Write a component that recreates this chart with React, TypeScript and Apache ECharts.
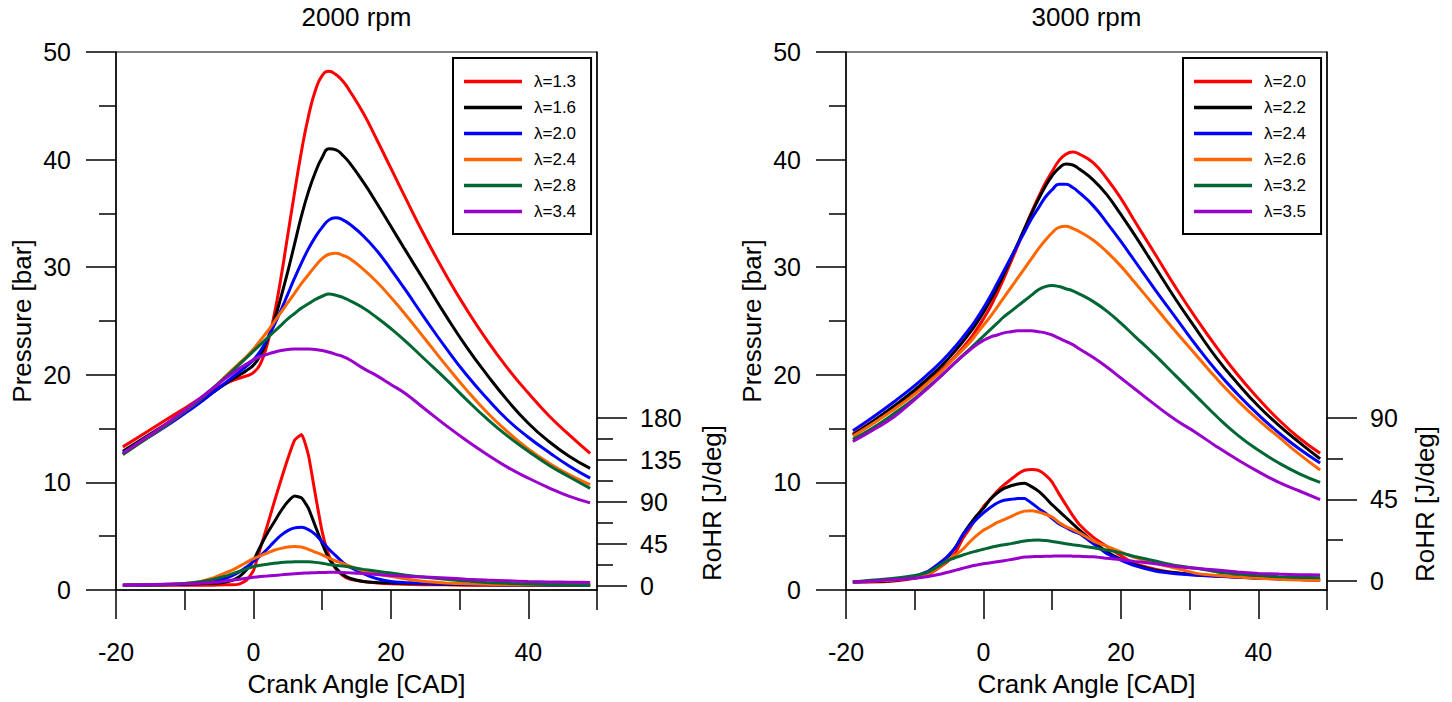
import React, { useEffect, useRef } from "react";
import * as echarts from "echarts";

const FONT = '"Liberation Sans", Arial, Helvetica, sans-serif';

// Crank angle sample positions [CAD]
const pressureAngles = [-19, -16, -13, -10, -8, -6, -4, -2, -1, 0, 1, 2, 3, 4, 5, 6, 7, 8, 9, 10, 11, 12, 13, 14, 16, 18, 20, 22, 25, 28, 31, 34, 37, 40, 43, 46, 49];
const rohrAngles = [-19, -16, -13, -10, -8, -6, -5, -4, -3, -2, -1, 0, 1, 2, 3, 4, 5, 6, 7, 8, 9, 10, 11, 12, 13, 14, 16, 18, 20, 22, 25, 28, 31, 34, 37, 40, 43, 46, 49];

// Legend labels
const lambdas2000 = ["λ=1.3", "λ=1.6", "λ=2.0", "λ=2.4", "λ=2.8", "λ=3.4"];
const lambdas3000 = ["λ=2.0", "λ=2.2", "λ=2.4", "λ=2.6", "λ=3.2", "λ=3.5"];
const lineColors = ["#ff0000", "#000000", "#0000ff", "#ff6600", "#006633", "#9900cc"];

// Tick values
const angleMajorTicks = [-20, 0, 20, 40];
const angleMinorTicks = [-10, 10, 30, 50];
const rohr2000MajorTicks = [0, 45, 90, 135, 180];
const rohr2000MinorTicks = [22.5, 67.5, 112.5, 157.5];
const rohr3000MajorTicks = [0, 45, 90];
const rohr3000MinorTicks = [22.5, 67.5];

// 2000 rpm – cylinder pressure [bar]
const p2000L13 = [13.3, 14.5, 15.7, 16.9, 17.7, 18.5, 19.2, 19.7, 19.9, 20.2, 21.0, 22.8, 25.5, 29.0, 33.0, 37.0, 40.8, 44.0, 46.4, 47.8, 48.2, 47.9, 47.3, 46.4, 44.3, 41.8, 39.2, 36.6, 32.8, 29.3, 26.1, 23.2, 20.6, 18.3, 16.2, 14.4, 12.7];
const p2000L16 = [12.9, 14.1, 15.3, 16.5, 17.4, 18.3, 19.2, 20.0, 20.4, 20.9, 21.8, 23.2, 25.0, 27.2, 29.6, 32.2, 34.8, 37.0, 38.8, 40.2, 41.0, 40.9, 40.4, 39.7, 37.9, 35.9, 33.8, 31.7, 28.6, 25.5, 22.6, 20.0, 17.6, 15.5, 13.8, 12.4, 11.3];
const p2000L20 = [12.7, 13.9, 15.1, 16.4, 17.3, 18.3, 19.3, 20.3, 20.8, 21.4, 22.2, 23.3, 24.6, 26.0, 27.5, 29.0, 30.4, 31.7, 32.8, 33.7, 34.4, 34.6, 34.4, 34.0, 32.9, 31.5, 29.8, 28.0, 25.2, 22.5, 20.0, 17.8, 15.8, 14.2, 12.8, 11.5, 10.4];
const p2000L24 = [12.6, 13.9, 15.2, 16.6, 17.6, 18.7, 19.9, 21.1, 21.7, 22.4, 23.2, 24.0, 24.9, 25.8, 26.7, 27.6, 28.5, 29.3, 30.1, 30.8, 31.2, 31.3, 31.1, 30.8, 29.8, 28.6, 27.2, 25.7, 23.3, 20.9, 18.6, 16.5, 14.7, 13.1, 11.8, 10.7, 9.8];
const p2000L28 = [12.6, 13.9, 15.2, 16.6, 17.6, 18.7, 19.8, 21.0, 21.6, 22.2, 22.8, 23.4, 24.0, 24.6, 25.2, 25.7, 26.2, 26.6, 27.0, 27.3, 27.5, 27.4, 27.2, 26.9, 26.2, 25.3, 24.3, 23.2, 21.4, 19.6, 17.7, 15.9, 14.3, 12.9, 11.6, 10.5, 9.45];
const p2000L34 = [12.7, 14.0, 15.3, 16.7, 17.7, 18.7, 19.7, 20.6, 21.0, 21.4, 21.7, 21.9, 22.1, 22.25, 22.35, 22.4, 22.4, 22.4, 22.35, 22.25, 22.1, 21.9, 21.7, 21.4, 20.6, 19.9, 19.1, 18.3, 16.8, 15.3, 13.9, 12.6, 11.4, 10.4, 9.5, 8.7, 8.1];

// 2000 rpm – rate of heat release [J/deg]
const r2000L13 = [0.5, 0.5, 0.5, 0.5, 0.5, 0.5, 0.8, 1, 1, 2, 6, 16, 40, 64, 89, 113, 136, 156, 162, 140, 98, 58, 32, 18, 11, 7, 4.5, 3, 2, 1.5, 1, 1, 0.5, 0.5, 0.5, 0.5, 0.5, 0.5, 0.5];
const r2000L16 = [0.5, 0.8, 1, 1.5, 2, 2.5, 3, 4, 6, 10, 17, 27, 42, 56, 68, 80, 90, 96, 94, 83, 64, 45, 29, 19, 12, 8, 4.5, 3.5, 3, 2.5, 2, 1.5, 1.2, 1, 1, 0.8, 0.8, 0.8, 0.8];
const r2000L20 = [0.5, 0.8, 1.2, 2, 3, 4.5, 6, 8, 11, 15, 20, 26, 32, 39, 47, 54, 59, 62, 62.5, 60, 55, 47, 39, 32, 25, 20, 13, 7.5, 4.5, 3.5, 2.5, 2, 1.5, 1.2, 1, 1, 0.8, 0.8, 0.8];
const r2000L24 = [0.5, 1, 1.5, 2.5, 4, 8, 11, 14, 17, 21, 25, 29, 32, 35, 38, 40, 41.5, 42, 41.5, 39, 36, 33, 29.5, 26.5, 24, 21, 16, 12.5, 10, 7.5, 4.5, 3, 2, 1.5, 1.2, 1, 1, 1, 1];
const r2000L28 = [0.5, 0.8, 1, 2.5, 4, 6.5, 8.5, 10.5, 13, 15.5, 18, 20.5, 22, 23, 24, 24.8, 25.3, 25.7, 25.8, 25.6, 25, 24, 22.8, 21.8, 21, 20, 17.5, 15.5, 13.5, 11.5, 9, 6.8, 5, 3.5, 2.5, 1.8, 1.2, 0.8, 0.5];
const r2000L34 = [0.5, 1, 1.5, 2, 2.5, 3.5, 4, 5, 6, 7, 8, 9, 9.8, 10.4, 11, 11.6, 12.2, 12.8, 13.3, 13.7, 14, 14.2, 14.3, 14.3, 14.2, 13.8, 13, 12, 11, 10.2, 9.2, 8.2, 7, 6, 5.3, 4.5, 4, 3.7, 3.5];

// 3000 rpm – cylinder pressure [bar]
const p3000L20 = [14.5, 15.7, 17.0, 18.4, 19.4, 20.5, 21.8, 23.3, 24.2, 25.2, 26.3, 27.6, 29.0, 30.5, 32.0, 33.6, 35.1, 36.5, 37.8, 38.9, 39.9, 40.5, 40.7, 40.5, 39.7, 38.2, 36.4, 34.3, 31.2, 28.1, 25.2, 22.5, 20.0, 17.8, 15.8, 14.1, 12.7];
const p3000L22 = [14.4, 15.7, 17.1, 18.6, 19.7, 20.9, 22.3, 23.9, 24.8, 25.8, 26.9, 28.1, 29.4, 30.8, 32.2, 33.6, 35.0, 36.3, 37.5, 38.5, 39.2, 39.6, 39.5, 39.1, 38.1, 36.7, 34.9, 33.0, 30.0, 27.0, 24.2, 21.5, 19.2, 17.1, 15.3, 13.7, 12.2];
const p3000L24 = [14.8, 16.1, 17.5, 19.0, 20.1, 21.3, 22.7, 24.3, 25.2, 26.2, 27.3, 28.5, 29.7, 30.9, 32.1, 33.3, 34.5, 35.5, 36.5, 37.2, 37.7, 37.7, 37.4, 36.9, 35.7, 34.1, 32.4, 30.6, 27.9, 25.3, 22.7, 20.3, 18.2, 16.3, 14.6, 13.1, 11.8];
const p3000L26 = [14.3, 15.5, 16.8, 18.2, 19.3, 20.4, 21.7, 23.0, 23.8, 24.6, 25.4, 26.3, 27.2, 28.1, 29.0, 29.9, 30.8, 31.7, 32.5, 33.2, 33.7, 33.8, 33.6, 33.3, 32.5, 31.4, 30.1, 28.6, 26.3, 24.0, 21.8, 19.6, 17.6, 15.8, 14.2, 12.6, 11.15];
const p3000L32 = [14.0, 15.1, 16.4, 17.8, 18.9, 20.0, 21.2, 22.4, 23.0, 23.6, 24.2, 24.8, 25.4, 25.9, 26.4, 26.9, 27.4, 27.9, 28.2, 28.3, 28.2, 28.0, 27.8, 27.5, 26.8, 25.9, 24.8, 23.6, 21.8, 19.9, 18.0, 16.1, 14.4, 13.0, 11.8, 10.8, 10.0];
const p3000L35 = [13.8, 14.9, 16.1, 17.7, 18.8, 20.0, 21.2, 22.3, 22.8, 23.2, 23.5, 23.7, 23.9, 24.0, 24.1, 24.1, 24.1, 24.0, 23.9, 23.7, 23.4, 23.1, 22.8, 22.4, 21.6, 20.7, 19.7, 18.7, 17.2, 15.8, 14.6, 13.3, 12.1, 11.0, 10.0, 9.2, 8.4];

// 3000 rpm – rate of heat release [J/deg]
const r3000L20 = [-0.5, -0.5, 0, 1.5, 3.5, 8.5, 11.5, 16, 23.5, 29, 35, 41, 45, 49.5, 53, 56, 59, 61, 61.5, 61, 58.5, 54.5, 48, 42, 36, 31, 24, 18.9, 14, 9.5, 6.5, 4.5, 3.3, 2.7, 2.2, 1.6, 1.2, 0.8, 0.5];
const r3000L22 = [-0.5, -0.3, 0.3, 2, 4.5, 10.5, 14, 19, 25.5, 31, 36, 40, 45, 48.5, 51, 52.5, 53.5, 53.8, 52, 49.5, 46, 42, 38.5, 35, 31.5, 28, 21.5, 16, 12, 9, 6, 4.5, 3.5, 2.8, 2.2, 1.6, 1.2, 0.8, 0.5];
const r3000L24 = [-0.5, 0, 0.5, 2.5, 5.5, 11, 14.5, 19, 25.5, 30, 34, 37.5, 40.5, 43, 44.5, 45, 45.5, 45.5, 43, 40, 37.5, 34.5, 31.5, 29.5, 27.5, 26, 20.5, 15, 11.5, 8.5, 5.5, 4, 3.2, 2.6, 2, 1.5, 1.2, 0.8, 0.6];
const r3000L26 = [-0.5, 0, 0.5, 2, 4, 9, 12, 14.5, 17.5, 21.5, 25, 28, 30, 32.3, 33.8, 35.5, 37.3, 38.5, 38.7, 38, 36.8, 35.3, 32.2, 30, 28.3, 26.5, 22, 19, 16, 13, 9.8, 7, 4.2, 3, 2.2, 1.5, 1, 0.5, 0.3];
const r3000L32 = [-0.5, 0.5, 1.5, 3, 5, 9.5, 11.6, 13, 14.3, 15.5, 16.5, 17.5, 18.5, 19.3, 20, 20.6, 21.3, 22, 22.5, 22.6, 22.3, 21.8, 21.2, 20.5, 20, 19.5, 18.3, 17, 15.5, 13.5, 11, 8.5, 7, 5, 3.8, 3, 2.4, 2, 1.8];
const r3000L35 = [-0.5, 0, 0.8, 1.5, 2.5, 4, 5, 6, 7, 8, 8.8, 9.5, 10, 10.6, 11.2, 11.8, 12.5, 13.2, 13.4, 13.5, 13.6, 13.7, 13.8, 13.8, 13.7, 13.6, 13.4, 12.5, 11.8, 10.8, 9.5, 8, 7, 6, 5, 4.2, 3.8, 3.5, 3.3];

const pressure2000 = [p2000L13, p2000L16, p2000L20, p2000L24, p2000L28, p2000L34];
const rohr2000 = [r2000L13, r2000L16, r2000L20, r2000L24, r2000L28, r2000L34];
const pressure3000 = [p3000L20, p3000L22, p3000L24, p3000L26, p3000L32, p3000L35];
const rohr3000 = [r3000L20, r3000L22, r3000L24, r3000L26, r3000L32, r3000L35];

const pairs = (xs: number[], ys: number[]) => xs.map((x, i) => [x, ys[i]]);

const black = "#000";
const axisLineStyle = { color: black, width: 1.5 };

function buildOption() {
  const grids = [
    { left: 116, top: 52, width: 481, height: 538 },
    { left: 846, top: 52, width: 481, height: 538 },
  ].map((g) => ({ ...g, show: true, borderColor: black, borderWidth: 1, backgroundColor: "transparent" }));

  const xAxes: any[] = [];
  const yAxes: any[] = [];
  const rohrRanges = [
    { min: -4.6, max: 571.8, major: rohr2000MajorTicks, minor: rohr2000MinorTicks },
    { min: -4.96, max: 291.5, major: rohr3000MajorTicks, minor: rohr3000MinorTicks },
  ];
  for (let g = 0; g < 2; g++) {
    xAxes.push({
      type: "value", gridIndex: g, position: "bottom", min: -20, max: 50,
      axisLine: { show: true, onZero: false, lineStyle: axisLineStyle },
      axisTick: { show: true, length: 29, customValues: angleMajorTicks, lineStyle: axisLineStyle },
      axisLabel: { customValues: angleMajorTicks, fontSize: 25, color: black, fontFamily: FONT, margin: 49 },
      splitLine: { show: false },
      name: "Crank Angle [CAD]", nameLocation: "middle", nameGap: 81,
      nameTextStyle: { fontSize: 26, color: black, fontFamily: FONT },
    });
    xAxes.push({
      type: "value", gridIndex: g, position: "bottom", min: -20, max: 50,
      axisLine: { show: false, onZero: false },
      axisTick: { show: true, length: 20, customValues: angleMinorTicks, lineStyle: axisLineStyle },
      axisLabel: { show: false },
      splitLine: { show: false },
    });
    yAxes.push({
      type: "value", gridIndex: g, position: "left", min: 0, max: 50, interval: 10,
      axisLine: { show: true, onZero: false, lineStyle: axisLineStyle },
      axisTick: { show: true, length: 30, lineStyle: axisLineStyle },
      minorTick: { show: true, splitNumber: 2, length: 17, lineStyle: axisLineStyle },
      axisLabel: { fontSize: 25, color: black, fontFamily: FONT, margin: 45 },
      splitLine: { show: false }, minorSplitLine: { show: false },
      name: "Pressure [bar]", nameLocation: "middle", nameGap: 81,
      nameTextStyle: { fontSize: 26, color: black, fontFamily: FONT },
    });
    const rr = rohrRanges[g];
    yAxes.push({
      type: "value", gridIndex: g, position: "right", min: rr.min, max: rr.max,
      axisLine: { show: true, onZero: false, lineStyle: axisLineStyle },
      axisTick: { show: true, length: 30, customValues: rr.major, lineStyle: axisLineStyle },
      axisLabel: { customValues: rr.major, fontSize: 25, color: black, fontFamily: FONT, margin: 43 },
      splitLine: { show: false },
    });
    yAxes.push({
      type: "value", gridIndex: g, position: "right", min: rr.min, max: rr.max,
      axisLine: { show: false, onZero: false },
      axisTick: { show: true, length: 16, customValues: rr.minor, lineStyle: axisLineStyle },
      axisLabel: { show: false },
      splitLine: { show: false },
    });
  }

  const series: any[] = [];
  const charts = [
    { prefix: "2000 rpm|", names: lambdas2000, p: pressure2000, r: rohr2000 },
    { prefix: "3000 rpm|", names: lambdas3000, p: pressure3000, r: rohr3000 },
  ];
  charts.forEach((c, g) => {
    c.names.forEach((n, i) => {
      series.push({
        type: "line", name: c.prefix + n, xAxisIndex: 2 * g, yAxisIndex: 3 * g,
        data: pairs(pressureAngles, c.p[i]), symbol: "none", showSymbol: false, smooth: 0.5,
        lineStyle: { width: 3, color: lineColors[i] }, itemStyle: { color: lineColors[i] },
      });
    });
    c.names.forEach((n, i) => {
      series.push({
        type: "line", name: c.prefix + n, xAxisIndex: 2 * g, yAxisIndex: 3 * g + 1,
        data: pairs(rohrAngles, c.r[i]), symbol: "none", showSymbol: false, smooth: 0.15,
        lineStyle: { width: 3, color: lineColors[i] }, itemStyle: { color: lineColors[i] },
      });
    });
  });

  const legendBase = {
    show: true, orient: "vertical", top: 58, icon: "rect", itemWidth: 58, itemHeight: 3.5, itemGap: 9,
    padding: [15, 15, 14, 11], borderColor: black, borderWidth: 2, backgroundColor: "#fff",
    textStyle: { fontSize: 17, color: black, fontFamily: FONT, padding: [0, 0, 0, 7] },
    formatter: (n: string) => n.split("|")[1], selectedMode: false,
  };
  const legends = [
    { ...legendBase, left: 453, data: lambdas2000.map((n) => "2000 rpm|" + n) },
    { ...legendBase, left: 1183, data: lambdas3000.map((n) => "3000 rpm|" + n) },
  ];

  const titleStyle = { fontSize: 26, fontWeight: "normal", color: black, fontFamily: FONT };
  const titles = [
    { text: "2000 rpm", left: 356.5, top: 4, textAlign: "center", padding: 0, textStyle: titleStyle },
    { text: "3000 rpm", left: 1086.5, top: 4, textAlign: "center", padding: 0, textStyle: titleStyle },
  ];

  const rohrNameStyle = {
    text: "RoHR [J/deg]", fontSize: 26, fontFamily: FONT, fill: black,
    align: "center", verticalAlign: "middle", textAlign: "center", textVerticalAlign: "middle",
  };
  const graphic = [
    { type: "text", x: 711.7, y: 503, rotation: Math.PI / 2, style: rohrNameStyle },
    { type: "text", x: 1425, y: 504, rotation: Math.PI / 2, style: rohrNameStyle },
  ];

  return {
    animation: false,
    backgroundColor: "#fff",
    textStyle: { fontFamily: FONT },
    title: titles,
    legend: legends,
    grid: grids,
    xAxis: xAxes,
    yAxis: yAxes,
    series,
    graphic,
  };
}

export default function App() {
  const ref = useRef<HTMLDivElement>(null);
  useEffect(() => {
    if (!ref.current) return;
    const chart = echarts.init(ref.current, null, { renderer: "svg" });
    chart.setOption(buildOption() as any);
    return () => chart.dispose();
  }, []);
  return (
    <div
      ref={ref}
      style={{ position: "fixed", left: 0, top: 0, width: 1452, height: 702, background: "#fff" }}
    />
  );
}
